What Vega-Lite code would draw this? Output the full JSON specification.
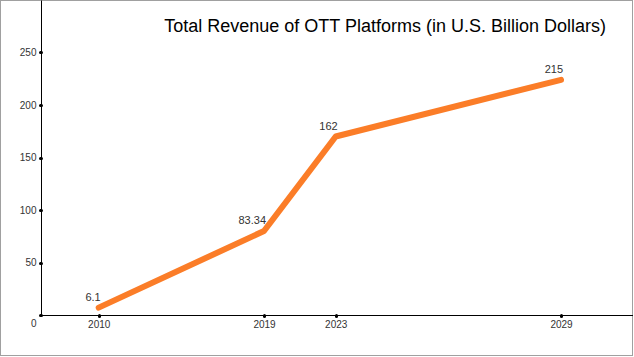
{
  "$schema": "https://vega.github.io/schema/vega-lite/v6.json",
  "autosize": "none",
  "padding": 0,
  "width": 633,
  "height": 356,
  "background": "white",
  "config": {
    "font": "Liberation Sans",
    "view": {"stroke": "#a0a0a0", "strokeWidth": 2},
    "axis": {
      "domainColor": "black",
      "domainWidth": 1,
      "tickColor": "black",
      "tickWidth": 3,
      "tickSize": 1,
      "tickCap": "round",
      "grid": false,
      "labelFont": "Liberation Sans",
      "labelFontSize": 10,
      "labelColor": "#333333",
      "title": null
    }
  },
  "title": {
    "text": "Total Revenue of OTT Platforms (in U.S. Billion Dollars)",
    "anchor": "end",
    "frame": "group",
    "font": "Liberation Sans",
    "fontSize": 18,
    "fontWeight": "normal",
    "color": "#000000",
    "baseline": "alphabetic",
    "offset": -32,
    "dx": -27,
    "dy": 18
  },
  "data": {
    "values": [
      {"year": 2010, "revenue": 7, "label": "6.1"},
      {"year": 2019, "revenue": 80, "label": "83.34"},
      {"year": 2023, "revenue": 170, "label": "162"},
      {"year": 2029, "revenue": 224, "label": "215"}
    ]
  },
  "encoding": {
    "x": {
      "field": "year",
      "type": "quantitative",
      "scale": {"domain": [2007, 2010, 2019, 2023, 2029, 2031], "range": [41, 98.7, 264, 335.7, 561, 633]},
      "axis": {"values": [2010, 2019, 2023, 2029], "format": "d", "offset": -41, "labelPadding": 3}
    },
    "y": {
      "field": "revenue",
      "type": "quantitative",
      "scale": {"domain": [0, 300], "range": [315, 0]},
      "axis": {
        "values": [0, 50, 100, 150, 200, 250],
        "offset": -41,
        "labelPadding": 4,
        "labelOffset": {"condition": {"test": "datum.value === 0", "value": 8}, "value": 0}
      }
    }
  },
  "layer": [
    {"mark": {"type": "line", "color": "#fb7d28", "strokeWidth": 6, "strokeCap": "round", "strokeJoin": "round"}},
    {
      "mark": {"type": "text", "align": "right", "baseline": "middle", "dx": 2, "dy": -10, "fontSize": 11, "color": "#333333", "font": "Liberation Sans"},
      "encoding": {"text": {"field": "label"}}
    }
  ]
}
